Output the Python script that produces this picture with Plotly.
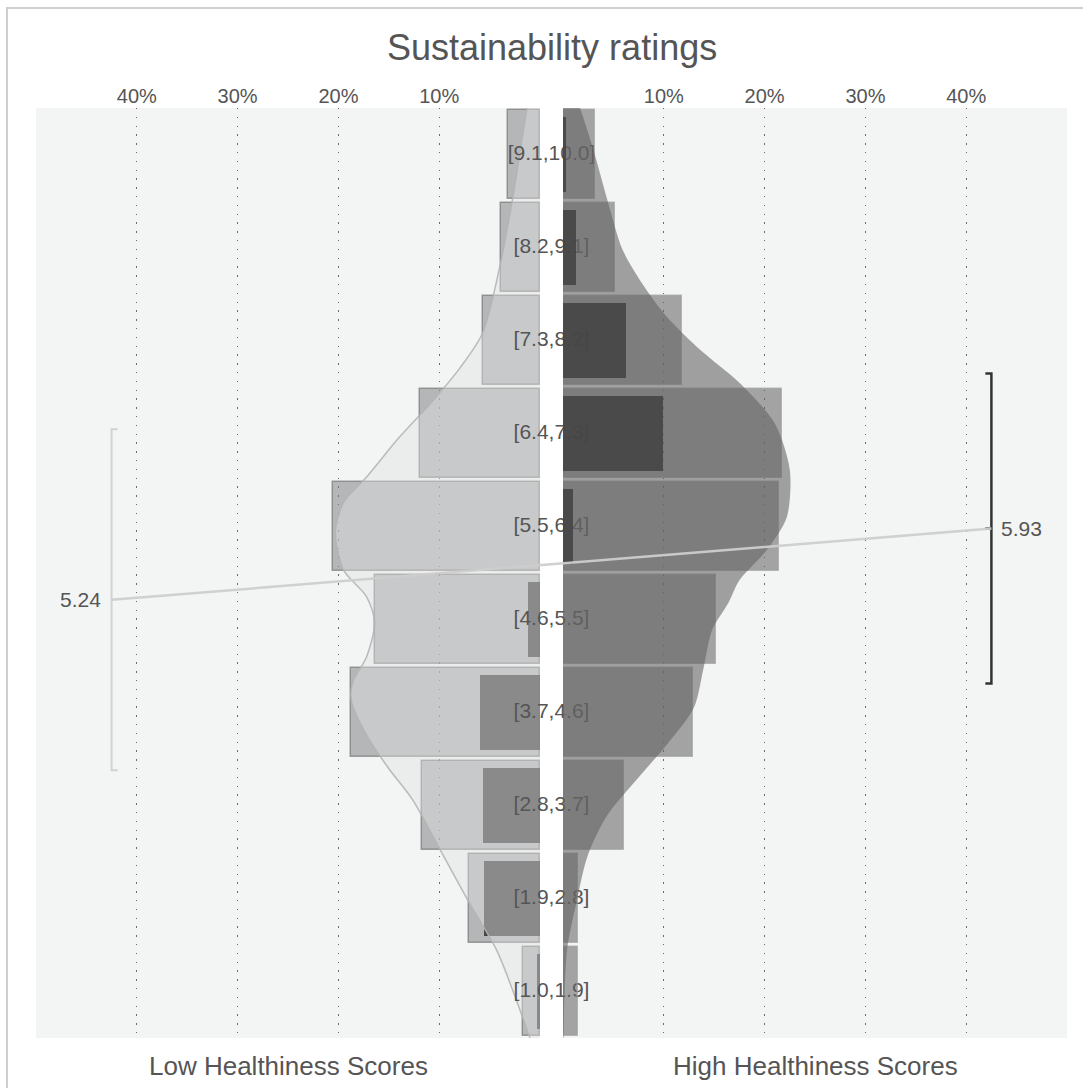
import plotly.graph_objects as go

# ---- data -------------------------------------------------------------
BIN_EDGES = [1.0, 1.9, 2.8, 3.7, 4.6, 5.5, 6.4, 7.3, 8.2, 9.1, 10.0]

# share of products per rating bin (%), bottom bin first
LOW_ALL = [1.7, 7.0, 11.7, 18.8, 16.4, 20.5, 11.9, 5.7, 3.9, 3.2]
LOW_SUB = [0.3, 5.6, 5.7, 6.0, 1.2, 0.0, 0.0, 0.0, 0.0, 0.0]
HIGH_ALL = [1.5, 1.5, 6.1, 12.9, 15.2, 21.4, 21.7, 11.8, 5.2, 3.2]
HIGH_SUB = [0.0, 0.0, 0.0, 0.0, 0.0, 1.0, 9.9, 6.2, 1.3, 0.3]

# smoothed rating densities (rating, %)
LOW_DENS_R = [10.0, 9.13, 8.46, 7.82, 7.49, 7.17, 6.82, 6.43, 6.18, 5.90, 5.53,
              5.27, 5.02, 4.69, 4.44, 4.26, 3.93, 3.62, 3.30, 2.82, 2.34, 1.85,
              1.46, 1.0]
LOW_DENS_P = [1.3, 2.7, 4.0, 5.7, 7.9, 10.6, 13.9, 17.2, 19.5, 20.3, 19.5,
              17.2, 16.4, 17.2, 18.6, 18.7, 17.2, 15.1, 12.6, 9.9, 7.2, 4.3,
              2.7, 1.0]
HIGH_DENS_R = [10.0, 9.6, 9.11, 8.63, 8.31, 7.98, 7.66, 7.34, 6.95, 6.5, 6.04,
               5.72, 5.43, 5.21, 4.95, 4.56, 4.2, 3.85, 3.6, 3.14, 2.75, 2.34,
               1.85, 1.0]
HIGH_DENS_P = [1.7, 3.0, 4.4, 5.9, 7.8, 10.3, 13.6, 17.5, 21.0, 22.5, 22.2,
               20.2, 17.5, 16.4, 14.8, 13.9, 13.0, 10.4, 8.2, 4.3, 2.4, 1.4,
               0.4, 0.05]

MEANS = [5.24, 5.93]
SDS = [1.65, 1.5]

TICKS = [10, 20, 30, 40]
TICK_TEXT = [f"{t}%" for t in TICKS]
TITLE = "Sustainability ratings"
GROUP_NAMES = ["Low Healthiness Scores", "High Healthiness Scores"]

# ---- layout constants ---------------------------------------------------
W, H = 1083, 1088
X_MAX = 50
DOM_L = [36 / W, 540 / W]
DOM_R = [563 / W, 1067 / W]
DOM_ALL = [DOM_L[0], DOM_R[1]]
DOM_Y = [1 - 1038 / H, 1 - 108 / H]
ERR_X = 42.5          # horizontal position of the mean brackets (%)
CAP = 0.6             # bracket cap length (%)
FONT = "Liberation Sans, Arial, sans-serif"
TXT = "#555555"
BG = "#f3f4f4"

centers = [(a + b) / 2 for a, b in zip(BIN_EDGES[:-1], BIN_EDGES[1:])]
labels = [f"[{a:.1f},{b:.1f}]" for a, b in zip(BIN_EDGES[:-1], BIN_EDGES[1:])]
y_lo, y_hi = BIN_EDGES[0], BIN_EDGES[-1]

# full-width overlay axes use right-panel units (0 = right panel's zero line)
px_l = W * (DOM_L[1] - DOM_L[0]) / X_MAX
px_r = W * (DOM_R[1] - DOM_R[0]) / X_MAX
gap_px = W * (DOM_R[0] - DOM_L[1])
ov_min = -(W * (DOM_R[0] - DOM_L[0])) / px_r
label_x = -(gap_px / 2) / px_r
left_err_ov = (W * DOM_L[1] - ERR_X * px_l - W * DOM_R[0]) / px_r

fig = go.Figure()

# ---- left panel (x / y) ----------------------------------------------
fig.add_trace(go.Bar(
    x=LOW_ALL, y=centers, orientation="h", width=0.86,
    marker=dict(color="rgba(130,132,135,0.55)",
                line=dict(color="rgba(105,105,105,0.6)", width=1.5)),
    xaxis="x", yaxis="y", hoverinfo="skip"))
fig.add_trace(go.Bar(
    x=LOW_SUB, y=centers, orientation="h", width=0.73,
    marker=dict(color="rgba(40,40,40,0.78)", line=dict(width=0)),
    xaxis="x", yaxis="y", hoverinfo="skip"))
fig.add_trace(go.Scatter(
    x=LOW_DENS_P + [0, 0], y=LOW_DENS_R + [y_lo - 0.3, y_hi + 0.3],
    mode="lines", fill="toself", fillcolor="rgba(225,225,225,0.44)",
    line=dict(width=0, shape="spline", smoothing=0.8),
    xaxis="x", yaxis="y", hoverinfo="skip"))
fig.add_trace(go.Scatter(
    x=LOW_DENS_P, y=LOW_DENS_R, mode="lines",
    line=dict(color="rgba(180,180,180,0.9)", width=1.5, shape="spline",
              smoothing=0.8),
    xaxis="x", yaxis="y", hoverinfo="skip"))
m, s = MEANS[0], SDS[0]
fig.add_trace(go.Scatter(
    x=[ERR_X - CAP, ERR_X, ERR_X, ERR_X - CAP], y=[m + s, m + s, m - s, m - s],
    mode="lines", line=dict(color="#d2d2d2", width=2),
    xaxis="x", yaxis="y", hoverinfo="skip"))

# ---- bin labels (x2 / y2), drawn beneath the right panel ---------------
fig.add_trace(go.Scatter(
    x=[label_x] * len(centers), y=centers, mode="text", text=labels,
    textfont=dict(size=21, color=TXT, family=FONT), cliponaxis=False,
    xaxis="x2", yaxis="y2", hoverinfo="skip"))

# ---- right panel (x3 / y3) --------------------------------------------
fig.add_trace(go.Bar(
    x=HIGH_ALL, y=centers, orientation="h", width=0.86,
    marker=dict(color="rgba(100,100,100,0.56)",
                line=dict(color="rgba(160,160,160,0.7)", width=1.5)),
    xaxis="x3", yaxis="y3", hoverinfo="skip"))
fig.add_trace(go.Bar(
    x=HIGH_SUB, y=centers, orientation="h", width=0.73,
    marker=dict(color="rgba(20,20,20,0.85)", line=dict(width=0)),
    xaxis="x3", yaxis="y3", hoverinfo="skip"))
fig.add_trace(go.Scatter(
    x=HIGH_DENS_P + [0, 0], y=HIGH_DENS_R + [y_lo - 0.3, y_hi + 0.3],
    mode="lines", fill="toself", fillcolor="rgba(99,99,99,0.58)",
    line=dict(width=0, shape="spline", smoothing=0.8),
    xaxis="x3", yaxis="y3", hoverinfo="skip"))
m, s = MEANS[1], SDS[1]
fig.add_trace(go.Scatter(
    x=[ERR_X - CAP, ERR_X, ERR_X, ERR_X - CAP], y=[m + s, m + s, m - s, m - s],
    mode="lines", line=dict(color="#333333", width=2.5),
    xaxis="x3", yaxis="y3", hoverinfo="skip"))
fig.add_trace(go.Scatter(
    x=[ERR_X - CAP, ERR_X], y=[m, m],
    mode="lines", line=dict(color="#333333", width=2.5),
    xaxis="x3", yaxis="y3", hoverinfo="skip"))

# ---- line joining the two means (x4 / y4, on top) ----------------------
fig.add_trace(go.Scatter(
    x=[left_err_ov, ERR_X], y=MEANS, mode="lines",
    line=dict(color="rgba(205,205,205,0.95)", width=2.5),
    xaxis="x4", yaxis="y4", hoverinfo="skip"))

axis_common = dict(
    side="top", tickmode="array", tickvals=TICKS, ticktext=TICK_TEXT,
    showgrid=True, gridcolor="#6a6a6a", gridwidth=1.4,
    griddash="1.4px,7.4px", zeroline=False, showline=False, ticks="",
    tickfont=dict(size=20, color=TXT, family=FONT), fixedrange=True,
)
hidden_y = dict(domain=DOM_Y, range=[y_lo, y_hi], visible=False,
                fixedrange=True)
hidden_x = dict(domain=DOM_ALL, range=[ov_min, X_MAX], visible=False,
                fixedrange=True)
fig.update_layout(
    width=W, height=H, autosize=False,
    margin=dict(l=0, r=0, t=0, b=0),
    paper_bgcolor="white", plot_bgcolor="rgba(0,0,0,0)",
    barmode="overlay", bargap=0, showlegend=False,
    font=dict(family=FONT, color=TXT),
    xaxis=dict(domain=DOM_L, anchor="y", range=[X_MAX, 0], **axis_common),
    xaxis2=dict(anchor="y2", **hidden_x),
    xaxis3=dict(domain=DOM_R, anchor="y3", range=[0, X_MAX], **axis_common),
    xaxis4=dict(anchor="y4", **hidden_x),
    yaxis=dict(anchor="x", **hidden_y),
    yaxis2=dict(anchor="x2", **hidden_y),
    yaxis3=dict(anchor="x3", **hidden_y),
    yaxis4=dict(anchor="x4", **hidden_y),
)

# panel backgrounds and outer frame
for dom in (DOM_L, DOM_R):
    fig.add_shape(type="rect", xref="paper", yref="paper", layer="below",
                  x0=dom[0], x1=dom[1], y0=DOM_Y[0], y1=DOM_Y[1],
                  fillcolor=BG, line=dict(width=0))
fig.add_shape(type="rect", xref="paper", yref="paper", layer="below",
              x0=7 / W, x1=1.05, y0=-0.05, y1=1 - 8 / H,
              fillcolor="rgba(0,0,0,0)", line=dict(color="#cfcfcf", width=2))

# mean values next to the brackets
fig.add_annotation(x=ERR_X, y=MEANS[0], xref="x", yref="y",
                   text=f"{MEANS[0]:.2f}", showarrow=False,
                   xanchor="right", xshift=-9,
                   font=dict(size=21, color=TXT, family=FONT))
fig.add_annotation(x=ERR_X, y=MEANS[1], xref="x3", yref="y3",
                   text=f"{MEANS[1]:.2f}", showarrow=False,
                   xanchor="left", xshift=8,
                   font=dict(size=21, color=TXT, family=FONT))

# title and panel captions
fig.add_annotation(x=(DOM_L[1] + DOM_R[0]) / 2, y=1 - 47 / H, xref="paper",
                   yref="paper", text=TITLE, showarrow=False,
                   xanchor="center", yanchor="middle",
                   font=dict(size=36, color=TXT, family=FONT))
for dom, name in zip((DOM_L, DOM_R), GROUP_NAMES):
    fig.add_annotation(x=(dom[0] + dom[1]) / 2, y=1 - 1066 / H, xref="paper",
                       yref="paper", text=name, showarrow=False,
                       xanchor="center", yanchor="middle",
                       font=dict(size=26, color=TXT, family=FONT))

fig.write_html("out.html")
